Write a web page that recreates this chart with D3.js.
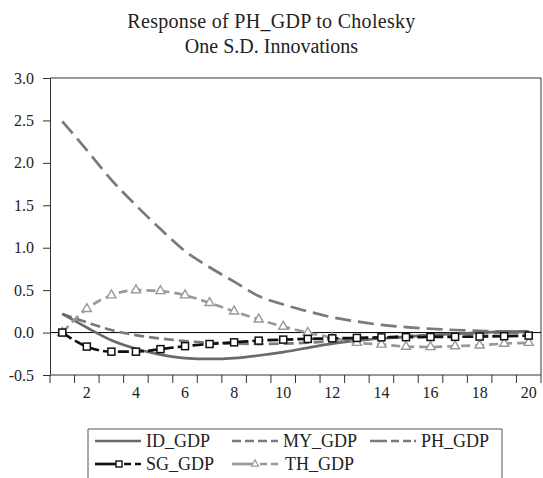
<!DOCTYPE html>
<html>
<head>
<meta charset="utf-8">
<script src="https://cdn.jsdelivr.net/npm/d3@7/dist/d3.min.js"></script>
<style>
  html, body { margin: 0; padding: 0; background: #fff; }
  svg { display: block; }
  text { font-family: "Liberation Serif", "DejaVu Serif", "Times New Roman", serif; fill: #222; }
</style>
</head>
<body>
<svg id="chart" width="543" height="478"></svg>
<script>
// ---- Data ----
const periods = d3.range(1, 21);
const xTickLabels = [2, 4, 6, 8, 10, 12, 14, 16, 18, 20];
const yTicks = [-0.5, 0.0, 0.5, 1.0, 1.5, 2.0, 2.5, 3.0];
const titleLines = ["Response of PH_GDP to Cholesky", "One S.D. Innovations"];

const ID_GDP = [0.22, 0.06, -0.09, -0.19, -0.26, -0.30, -0.31, -0.30, -0.27, -0.23,
                -0.18, -0.13, -0.095, -0.07, -0.05, -0.03, -0.015, 0.0, 0.01, 0.015];
const MY_GDP = [0.22, 0.12, 0.03, -0.03, -0.07, -0.10, -0.12, -0.13, -0.135, -0.13,
                -0.12, -0.10, -0.08, -0.06, -0.04, -0.03, -0.02, -0.01, -0.005, 0.0];
const PH_GDP = [2.49, 2.15, 1.80, 1.50, 1.22, 0.96, 0.77, 0.60, 0.43, 0.33,
                0.25, 0.18, 0.13, 0.09, 0.065, 0.045, 0.03, 0.02, 0.012, 0.008];
const SG_GDP = [0.0, -0.165, -0.225, -0.225, -0.195, -0.16, -0.135, -0.115, -0.095, -0.083,
                -0.075, -0.068, -0.063, -0.056, -0.054, -0.052, -0.05, -0.047, -0.043, -0.036];
const TH_GDP = [0.0, 0.28, 0.44, 0.50, 0.49, 0.44, 0.35, 0.25, 0.155, 0.07,
                0.0, -0.06, -0.12, -0.14, -0.165, -0.17, -0.16, -0.15, -0.13, -0.12];

const series = [
  { name: "ID_GDP", values: ID_GDP, color: "#6a6a6a", dash: null, marker: null },
  { name: "MY_GDP", values: MY_GDP, color: "#7a7a7a", dash: "10,5", marker: null },
  { name: "PH_GDP", values: PH_GDP, color: "#7a7a7a", dash: "16,7", marker: null },
  { name: "SG_GDP", values: SG_GDP, color: "#111111", dash: "11,4", marker: "square" },
  { name: "TH_GDP", values: TH_GDP, color: "#999999", dash: "9,5", marker: "triangle" }
];
const legendDash = { ID_GDP: null, MY_GDP: "9,4", PH_GDP: "17,4,8,4,8,3,2" };

// ---- Layout ----
const svg = d3.select("#chart");
const mLeft = 50, mRight = 541, mTop = 78, mBottom = 375;

const x = d3.scaleBand().domain(periods).range([mLeft, mRight]).padding(0);
const y = d3.scaleLinear().domain([-0.5, 3.0]).range([mBottom, mTop]);
const cx = d => x(d) + x.bandwidth() / 2;

// Title
svg.append("g").selectAll("text").data(titleLines).join("text")
  .attr("x", 271.5)
  .attr("y", (d, i) => 28 + i * 25)
  .attr("text-anchor", "middle")
  .attr("font-size", 20)
  .attr("letter-spacing", (d, i) => i === 0 ? 0.3 : 0)
  .text(d => d);

// Frame (top & right)
svg.append("path")
  .attr("d", `M${mLeft},${mTop}H${mRight}V${mBottom}`)
  .attr("fill", "none").attr("stroke", "#333").attr("stroke-width", 1);

// Y axis
const yAxis = d3.axisLeft(y).tickValues(yTicks).tickSize(7).tickSizeOuter(0)
  .tickFormat(d => d.toFixed(1));
const gy = svg.append("g").attr("transform", `translate(${mLeft},0)`).call(yAxis);
gy.attr("font-family", null);
gy.select(".domain").attr("stroke", "#333");
gy.selectAll(".tick line").attr("stroke", "#333");
gy.selectAll(".tick text").attr("font-size", 16)
  .attr("fill", "#222").attr("x", -16);

// X axis: ticks at band boundaries, labels at period centers
const boundaries = periods.map(p => x(p)).concat([mRight]);
const gx = svg.append("g");
gx.append("line").attr("x1", mLeft).attr("x2", mRight).attr("y1", mBottom).attr("y2", mBottom)
  .attr("stroke", "#333");
gx.selectAll("line.tk").data(boundaries).join("line").attr("class", "tk")
  .attr("x1", d => d).attr("x2", d => d).attr("y1", mBottom).attr("y2", mBottom + 8)
  .attr("stroke", "#333");
gx.selectAll("text").data(xTickLabels).join("text")
  .attr("x", d => cx(d)).attr("y", mBottom + 23)
  .attr("text-anchor", "middle").attr("font-size", 16).text(d => d);

// Zero line
svg.append("line").attr("x1", mLeft).attr("x2", mRight)
  .attr("y1", y(0)).attr("y2", y(0)).attr("stroke", "#000").attr("stroke-width", 1);

// Lines
const line = d3.line().x((d, i) => cx(periods[i])).y(d => y(d)).curve(d3.curveMonotoneX);
const order = ["PH_GDP", "MY_GDP", "ID_GDP", "TH_GDP", "SG_GDP"];
order.forEach(n => {
  const s = series.find(t => t.name === n);
  svg.append("path").datum(s.values)
    .attr("d", line)
    .attr("fill", "none")
    .attr("stroke", s.color)
    .attr("stroke-width", 2.7)
    .attr("stroke-dasharray", s.dash);
  if (s.marker === "square") {
    svg.append("g").selectAll("rect").data(s.values).join("rect")
      .attr("x", (d, i) => cx(periods[i]) - 3.5).attr("y", d => y(d) - 3.5)
      .attr("width", 7).attr("height", 7)
      .attr("fill", "#fff").attr("stroke", s.color).attr("stroke-width", 1.5);
  } else if (s.marker === "triangle") {
    const tri = d3.symbol().type(d3.symbolTriangle).size(36);
    svg.append("g").selectAll("path").data(s.values).join("path")
      .attr("transform", (d, i) => `translate(${cx(periods[i])},${y(d)})`)
      .attr("d", tri)
      .attr("fill", "#fff").attr("stroke", s.color).attr("stroke-width", 1.4);
  }
});

// Legend
const lg = svg.append("g");
lg.append("path").attr("d", "M88,478V429H502V478")
  .attr("fill", "none").attr("stroke", "#555").attr("stroke-width", 1);
const legendPos = [
  { name: "ID_GDP", x: 95, row: 0 },
  { name: "MY_GDP", x: 232, row: 0 },
  { name: "PH_GDP", x: 370, row: 0 },
  { name: "SG_GDP", x: 95, row: 1 },
  { name: "TH_GDP", x: 232, row: 1 }
];
legendPos.forEach(p => {
  const s = series.find(t => t.name === p.name);
  const ly = 441 + p.row * 23;
  const w = 46;
  if (s.marker) {
    const mx = s.marker === "square" ? p.x + 24 : p.x + 23;
    lg.append("line").attr("x1", p.x).attr("x2", mx).attr("y1", ly).attr("y2", ly)
      .attr("stroke", s.color).attr("stroke-width", 2.7);
    lg.append("line").attr("x1", mx + 5).attr("x2", p.x + w).attr("y1", ly).attr("y2", ly)
      .attr("stroke", s.color).attr("stroke-width", 2.7).attr("stroke-dasharray", "7,4");
    if (s.marker === "square") {
      lg.append("rect").attr("x", mx - 3).attr("y", ly - 3).attr("width", 6).attr("height", 6)
        .attr("fill", "#fff").attr("stroke", s.color).attr("stroke-width", 1.4);
    } else {
      lg.append("path").attr("transform", `translate(${mx},${ly})`)
        .attr("d", d3.symbol().type(d3.symbolTriangle).size(22))
        .attr("fill", "#fff").attr("stroke", s.color).attr("stroke-width", 1.2);
    }
  } else {
    lg.append("line").attr("x1", p.x).attr("x2", p.x + w).attr("y1", ly).attr("y2", ly)
      .attr("stroke", s.color).attr("stroke-width", 2.7)
      .attr("stroke-dasharray", legendDash[s.name]);
  }
  lg.append("text").attr("x", p.x + (s.marker === "triangle" ? 53 : 51)).attr("y", ly + 6)
    .attr("font-size", 18).text(s.name);
});
</script>
</body>
</html>
